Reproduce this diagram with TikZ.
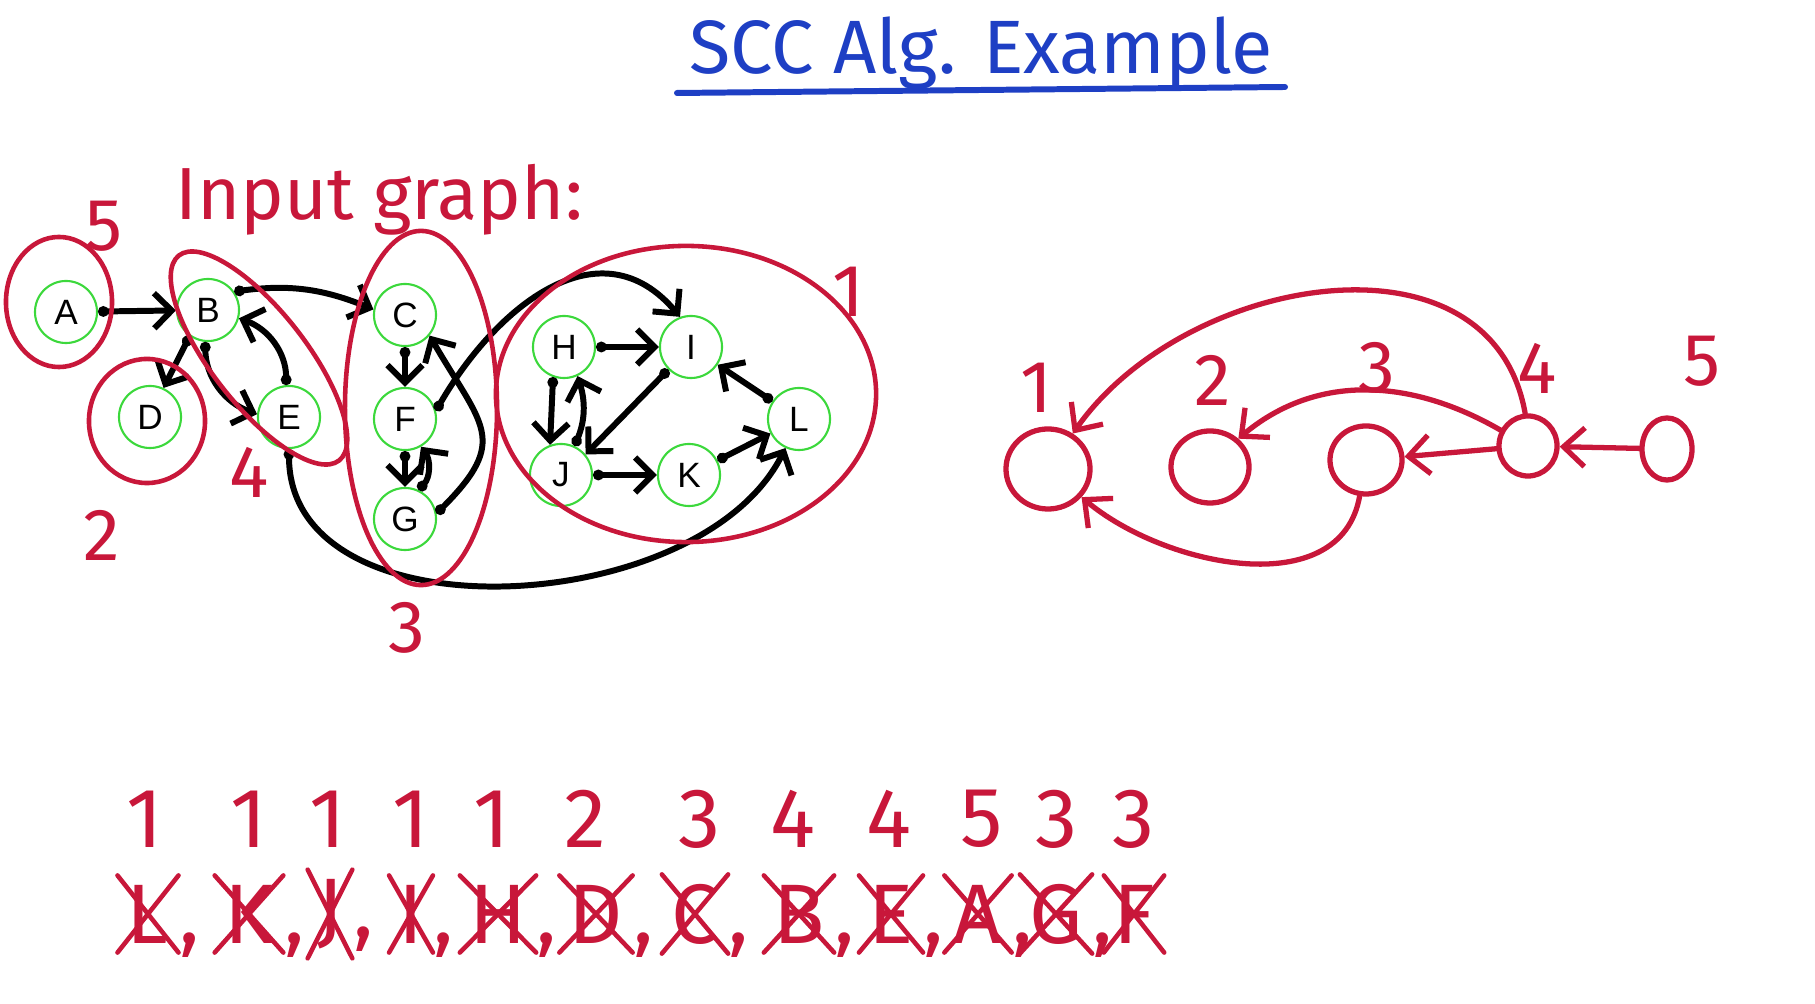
\documentclass[tikz,border=0pt]{standalone}
\usepackage{fontspec}
\setmainfont{Liberation Sans}
\newfontfamily\handfont{Fira Sans}
\usetikzlibrary{arrows.meta, shapes.geometric}
\definecolor{markRed}{HTML}{C8173A}
\definecolor{markBlue}{HTML}{1E3FC4}
\definecolor{ringGreen}{HTML}{3CD83C}

\begin{document}
\begin{tikzpicture}[x=0.01cm, y=-0.01cm,
  vertex/.style={draw=ringGreen, circle, minimum size=0.62cm, inner sep=0pt,
                 line width=0.6pt, font=\fontsize{10}{11}\selectfont},
  wire/.style={draw=black, line width=1.7pt, line cap=round,
               {Circle[length=3pt]}-{Straight Barb[length=5pt,width=10pt]}},
  blob/.style={draw=markRed, line width=1.3pt},
  scc/.style={draw=markRed, ellipse, inner sep=0pt, line width=1.5pt},
  redarrow/.style={draw=markRed, line width=1.5pt, line cap=round,
                   -{Straight Barb[length=6pt,width=11pt]}},
  hand/.style={text=markRed, inner sep=1pt, font=\handfont\fontsize{21}{24}\selectfont},
  listtxt/.style={text=markRed, inner sep=1pt, font=\handfont\fontsize{24}{26}\selectfont},
  crossout/.style={draw=markRed, line width=1.3pt, line cap=round},
]
\useasboundingbox (0,0) rectangle (1815,1004);

% Title
\node[text=markBlue, anchor=base, font=\handfont\fontsize{21.5}{24}\selectfont] (title) at (981,74) {SCC Alg. Example};
\coordinate (ulL) at (677,93);
\coordinate (ulR) at (1285,87);
\draw[markBlue, line width=1.7pt, line cap=round] (ulL) -- (ulR);

% Input graph
\node[hand, anchor=base west] (inlabel) at (171,220) {Input graph:};
\node[vertex] (A) at (66,312) {A};
\node[vertex] (B) at (208,310) {B};
\node[vertex] (D) at (150,417) {D};
\node[vertex] (E) at (289,417) {E};
\node[vertex] (C) at (405,315) {C};
\node[vertex] (F) at (405,419) {F};
\node[vertex] (G) at (405,519) {G};
\node[vertex] (H) at (564,347) {H};
\node[vertex] (I) at (691,347) {I};
\node[vertex] (J) at (561,475) {J};
\node[vertex] (K) at (689,475) {K};
\node[vertex] (L) at (799,419) {L};

\draw[wire] (A) -- (B);
\draw[wire] (B.235) -- (D.65);
\draw[wire] (B.265) to[bend right=35] (E.175);
\draw[wire] (E.95) to[bend right=35] (B.-15);
\draw[wire] (B.35) to[bend left=15] (C.170);
\draw[wire] (C) -- (F);
\draw[wire] (F) -- (G);
\draw[wire] (G.65) to[bend right=40] (F.-60);
\draw[wire] (G.10) to[out=45,in=-60,looseness=1.5] (C.-40);
\draw[wire] (F.15) to[out=60,in=130,looseness=1.2] (I.110);
\draw[wire] (E.-90) .. controls (289,640) and (700,620) .. (L.-115);
\draw[wire] (H) -- (I);
\draw[wire] (H.-110) -- (J.110);
\draw[wire] (J.65) to[bend right=20] (H.-65);
\draw[wire] (I.-135) -- (J.40);
\draw[wire] (J) -- (K);
\draw[wire] (K) -- (L);
\draw[wire] (L) -- (I);

% SCC outlines and their numbers
\draw[blob] (59,302) ellipse [x radius=0.53cm, y radius=0.65cm];
\draw[blob] (147,421) ellipse [x radius=0.58cm, y radius=0.62cm];
\draw[blob, rotate around={-52:(259,358)}] (259,358) ellipse [x radius=1.3cm, y radius=0.47cm];
\draw[blob] (421,408) ellipse [x radius=0.76cm, y radius=1.77cm];
\draw[blob] (686,394) ellipse [x radius=1.9cm, y radius=1.48cm];
\node[hand] (lbl5) at (104,226) {5};
\node[hand] (lbl4) at (249,472) {4};
\node[hand] (lbl2) at (102,535) {2};
\node[hand] (lbl3) at (407,628) {3};
\node[hand] (lbl1) at (848,292) {1};

% Condensed graph
\node[scc, minimum width=0.84cm, minimum height=0.80cm] (c1) at (1048,469) {};
\node[scc, minimum width=0.78cm, minimum height=0.72cm] (c2) at (1210,467) {};
\node[scc, minimum width=0.72cm, minimum height=0.68cm] (c3) at (1366,460) {};
\node[scc, minimum width=0.58cm, minimum height=0.60cm] (c4) at (1528,446) {};
\node[scc, minimum width=0.50cm, minimum height=0.62cm] (c5) at (1667,449) {};
\node[hand] (n1) at (1036,388) {1};
\node[hand] (n2) at (1213,380) {2};
\node[hand] (n3) at (1377,368) {3};
\node[hand] (n4) at (1537,368) {4};
\node[hand] (n5) at (1702,361) {5};

\draw[redarrow] (c5) -- (c4);
\draw[redarrow] (c4) -- (c3);
\draw[redarrow] (c4.150) to[out=150,in=40] (c2.45);
\draw[redarrow] (c4.95) to[out=100,in=55,looseness=1.1] (c1.55);
\draw[redarrow] (c3.-100) to[out=-100,in=-40] (c1.-40);

% Sink order
\foreach \ltr/\num/\lx/\nx [count=\i] in {L/1/148/145, K/1/249/249, J/1/330/328,
    I/1/411/411, H/1/498/492, D/2/596/585, C/3/695/700, B/4/799/793,
    E/4/891/889, A/5/978/982, G/3/1056/1057, F/3/1134/1134} {
  \node[listtxt] (num\i) at (\nx,819) {\num};
  \node[listtxt, inner sep=2.5pt] (ltr\i) at (\lx,914) {\ltr};
  \draw[crossout] (ltr\i.north west) -- (ltr\i.south east)
                  (ltr\i.north east) -- (ltr\i.south west);
  \ifnum\i<12 \node[listtxt, anchor=base west, inner sep=0pt] (cm\i) at (ltr\i.base east) {,};\fi
}
\end{tikzpicture}
\end{document}
